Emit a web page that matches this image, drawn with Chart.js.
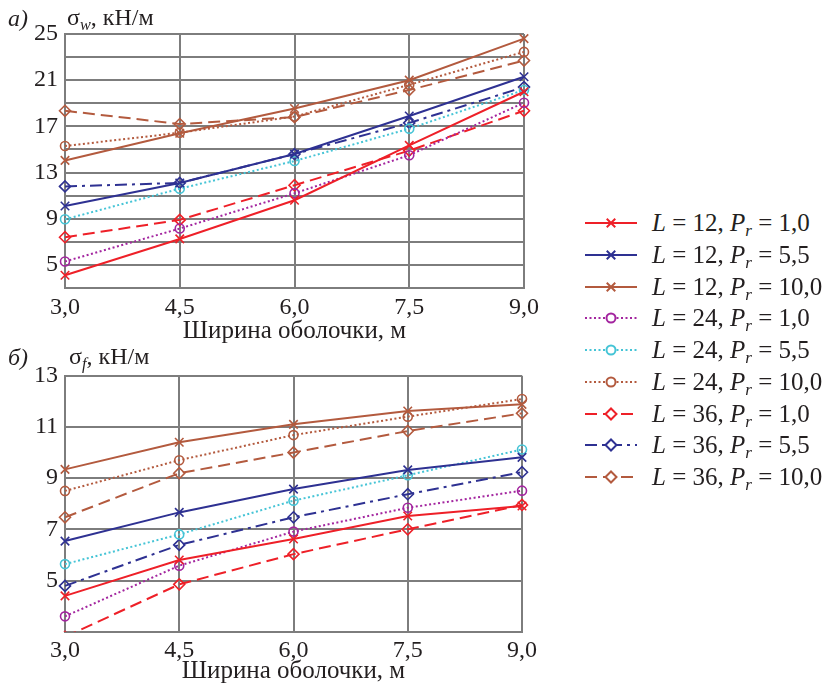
<!DOCTYPE html>
<html>
<head>
<meta charset="utf-8">
<script src="https://cdn.jsdelivr.net/npm/chart.js@4.4.0/dist/chart.umd.min.js"></script>
<style>
  body { margin: 0; width: 824px; height: 687px; position: relative; overflow: hidden; background: #fff;
         font-family: "Liberation Serif", "DejaVu Serif", serif; color: #231f20; }
  .wrap { position: absolute; left: 0; }
  .txt { position: absolute; font-size: 24px; line-height: 1; white-space: nowrap; }
  .txt sub, .leg sub { font-size: 0.68em; vertical-align: -0.3em; line-height: 0; }
  .leg { position: absolute; left: 585px; height: 24px; display: flex; align-items: center;
         font-size: 25px; white-space: nowrap; }
  .leg canvas { margin-right: 15px; }
</style>
</head>
<body>
<div class="wrap" style="top:0;width:560px;height:346px"><canvas id="chartW"></canvas></div>
<div class="wrap" style="top:346px;width:560px;height:340px"><canvas id="chartF"></canvas></div>

<div class="txt" style="left:8px;top:6px;font-style:italic">а)</div>
<div class="txt" style="left:67px;top:5px">σ<sub><i>w</i></sub>, кН/м</div>
<div class="txt" style="left:8px;top:345px;font-style:italic">б)</div>
<div class="txt" style="left:69px;top:344px">σ<sub><i>f</i></sub>, кН/м</div>

<div id="legend"></div>

<script>
// ширина оболочки, м
const widths = [3.0, 4.5, 6.0, 7.5, 9.0];

// параметры серий
const seriesL = [12, 12, 12, 24, 24, 24, 36, 36, 36];
const seriesPr = [1.0, 5.5, 10.0, 1.0, 5.5, 10.0, 1.0, 5.5, 10.0];

// σw, кН/м
const sigmaW = [
  [4.1, 7.25, 10.6, 15.35, 20.0],
  [10.1, 12.1, 14.6, 17.9, 21.3],
  [14.05, 16.4, 18.55, 21.0, 24.6],
  [5.3, 8.15, 11.2, 14.5, 19.05],
  [8.95, 11.6, 14.0, 16.8, 20.15],
  [15.3, 16.45, 17.85, 20.6, 23.45],
  [7.4, 8.9, 11.9, 14.9, 18.35],
  [11.8, 12.1, 14.6, 17.3, 20.4],
  [18.35, 17.2, 17.8, 20.15, 22.7]
];

// σf, кН/м
const sigmaF = [
  [4.4, 5.8, 6.62, 7.52, 7.91],
  [6.54, 7.66, 8.57, 9.32, 9.81],
  [9.34, 10.4, 11.1, 11.62, 11.88],
  [3.6, 5.58, 6.91, 7.84, 8.51],
  [5.64, 6.8, 8.12, 9.11, 10.12],
  [8.5, 9.7, 10.68, 11.4, 12.09],
  [2.8, 4.85, 6.03, 7.0, 7.95],
  [4.79, 6.39, 7.47, 8.37, 9.23],
  [7.47, 9.19, 10.0, 10.84, 11.53]
];

// styles
const red = "#ee2028", blue = "#2e3192", brown = "#b35a3e", magenta = "#a3259f", cyan = "#45c4d6";
const colors = [red, blue, brown, magenta, cyan, brown, red, blue, brown];
const dashes = [[], [], [], [2, 2.5], [2, 2.5], [2, 2.5], [12, 6], [12, 5, 3, 5], [12, 6]];
const markers = ["crossRot", "crossRot", "crossRot", "circle", "circle", "circle", "rectRot", "rectRot", "rectRot"];
const markerSize = { crossRot: 6, circle: 4.5, rectRot: 5.5 };

const fmt = v => v.toFixed(1).replace(".", ",");
const font = { family: "'Liberation Serif', serif", size: 24 };
const gridColor = "#7d7d7d";

function buildDatasets(values) {
  return values.map((vals, i) => ({
    label: "L = " + seriesL[i] + ", Pr = " + fmt(seriesPr[i]),
    data: widths.map((w, j) => ({ x: w, y: vals[j] })),
    borderColor: colors[i],
    backgroundColor: "rgba(0,0,0,0)",
    borderWidth: 2,
    borderDash: dashes[i],
    pointStyle: markers[i],
    pointRadius: markerSize[markers[i]],
    pointBorderWidth: 1.6,
    pointBorderColor: colors[i],
    pointBackgroundColor: "rgba(0,0,0,0)",
    tension: 0,
    clip: { left: 12, top: 12, right: 12, bottom: 0 }
  }));
}

function makeChart(id, values, yMin, yMax, showTick, padTop, padRight, xHeight) {
  return new Chart(document.getElementById(id), {
    type: "line",
    data: { datasets: buildDatasets(values) },
    options: {
      responsive: true,
      maintainAspectRatio: false,
      animation: false,
      layout: { padding: { top: padTop, right: padRight, left: 0, bottom: 0 } },
      plugins: { legend: { display: false }, tooltip: { enabled: false } },
      scales: {
        x: {
          type: "linear", min: 3, max: 9,
          ticks: { stepSize: 1.5, callback: v => fmt(v), color: "#231f20", font: font, padding: 5, maxRotation: 0, autoSkip: false },
          grid: { color: gridColor, lineWidth: 2, drawTicks: false },
          border: { color: gridColor, width: 2 },
          title: { display: true, text: "Ширина оболочки, м", color: "#231f20",
                   font: { family: font.family, size: 25 }, padding: { top: 0, bottom: 0 } },
          afterFit: s => { s.height = xHeight; }
        },
        y: {
          min: yMin, max: yMax,
          ticks: { stepSize: 2, autoSkip: false, callback: v => showTick(v) ? String(v) : "", color: "#231f20", font: font, padding: 7 },
          grid: { color: gridColor, lineWidth: 2, drawTicks: false },
          border: { color: gridColor, width: 2 },
          afterFit: s => { s.width = 65; }
        }
      }
    }
  });
}

makeChart("chartW", sigmaW, 3, 25, v => v !== 3 && (v - 5) % 4 === 0, 34, 36, 58);
makeChart("chartF", sigmaF, 3, 13, v => v !== 3, 29.7, 38, 54.3);

// legend
const legend = document.getElementById("legend");
seriesL.forEach((L, i) => {
  const row = document.createElement("div");
  row.className = "leg";
  row.style.top = (223.3 + 31.7 * i - 12) + "px";
  const c = document.createElement("canvas");
  c.width = 52; c.height = 20;
  const ctx = c.getContext("2d");
  ctx.strokeStyle = colors[i];
  ctx.lineWidth = 2;
  ctx.setLineDash(dashes[i]);
  ctx.beginPath(); ctx.moveTo(0, 10); ctx.lineTo(52, 10); ctx.stroke();
  ctx.setLineDash([]);
  ctx.fillStyle = "#fff";
  Chart.helpers.drawPoint(ctx, { pointStyle: markers[i], radius: markerSize[markers[i]], rotation: 0, borderWidth: 1.6 }, 26, 10);
  row.appendChild(c);
  const t = document.createElement("span");
  t.innerHTML = "<i>L</i> = " + L + ", <i>P</i><sub><i>r</i></sub> = " + fmt(seriesPr[i]);
  row.appendChild(t);
  legend.appendChild(row);
});
</script>
</body>
</html>
